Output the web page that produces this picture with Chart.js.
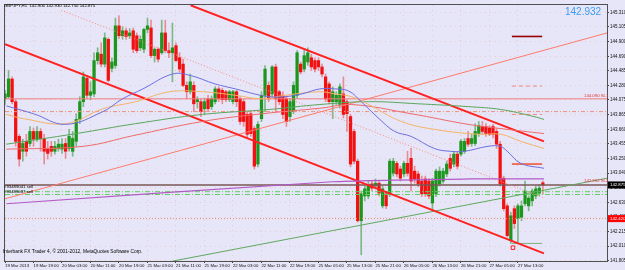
<!DOCTYPE html>
<html>
<head>
<meta charset="utf-8">
<script src="https://cdn.jsdelivr.net/npm/chart.js@4.4.1/dist/chart.umd.min.js"></script>
<style>
  body { margin: 0; background: #e6e6f8; }
  canvas { display: block; }
</style>
</head>
<body>
<canvas id="myChart" width="625" height="270"></canvas>
<script>
// GBPJPY H1 candles, bar 0 = 19 Mar 2013 11:00
const opens = [144.09,144.12,144.37,144.05,143.56,143.35,143.49,143.46,143.63,143.52,
143.63,143.53,143.38,143.42,143.35,143.39,143.38,143.46,143.39,143.35,
143.49,143.80,144.05,144.38,144.14,144.16,144.63,144.72,144.58,144.93,
144.52,144.56,145.12,144.98,145.05,144.98,145.05,144.98,144.81,144.79,
145.07,145.09,144.70,144.79,144.74,145.02,144.77,144.74,144.84,144.67,
144.58,144.28,144.19,144.28,144.05,144.05,143.95,144.09,143.98,144.05,
144.23,144.21,144.19,144.08,144.05,144.19,144.09,144.05,143.87,143.88,
143.67,143.17,143.81,144.14,144.28,144.16,144.54,144.19,144.14,144.09,
143.84,143.91,144.14,144.58,144.51,144.61,144.67,144.63,144.63,144.54,
144.40,144.30,144.05,144.05,144.01,144.16,144.05,143.84,143.63,143.21,
142.37,142.72,142.72,142.89,142.86,142.90,142.58,142.75,142.75,143.04,
143.18,143.10,143.03,143.18,143.25,143.07,143.03,142.93,142.96,142.93,
142.62,142.75,142.89,142.93,143.03,143.25,143.17,143.31,143.31,143.35,
143.53,143.46,143.46,143.60,143.70,143.70,143.68,143.70,143.63,143.45,
142.97,142.58,142.09,142.54,142.40,142.42,142.61,142.58,142.65,142.72,
142.76,142.906];
const highs = [144.21,144.49,144.40,144.08,143.59,143.52,143.59,143.70,143.68,143.70,
143.67,143.59,143.49,143.49,143.49,143.52,143.53,143.53,143.66,143.63,
143.88,144.12,144.47,144.42,144.33,144.74,144.81,144.88,145.02,144.95,
144.67,145.23,145.26,145.11,145.09,145.08,145.09,145.02,144.98,145.09,
145.23,145.20,144.81,144.81,145.20,145.20,144.88,145.16,144.88,144.74,
144.65,144.33,144.44,144.33,144.12,144.09,144.10,144.14,144.13,144.26,
144.26,144.24,144.21,144.21,144.21,144.21,144.12,144.08,143.91,143.91,
143.70,143.77,144.19,144.56,144.33,144.56,144.58,144.21,144.19,144.12,
144.09,144.33,144.77,144.61,144.77,144.81,144.72,144.67,144.67,144.58,
144.44,144.33,144.26,144.19,144.30,144.40,144.08,143.87,143.66,143.24,
142.79,142.86,142.93,142.93,142.96,142.93,142.86,142.79,143.24,143.25,
143.21,143.14,143.21,143.35,143.39,143.14,143.07,143.00,143.00,142.97,
142.97,143.10,143.13,143.11,143.21,143.31,143.35,143.35,143.52,143.53,
143.63,143.59,143.74,143.77,143.77,143.74,143.71,143.73,143.67,143.49,
143.00,142.61,142.49,142.58,142.61,142.65,142.93,142.72,142.82,142.86,
142.88,142.930];
const lows = [144.01,144.09,144.02,143.42,143.14,143.21,143.28,143.42,143.42,143.49,
143.35,143.17,143.24,143.28,143.31,143.35,143.32,143.25,143.35,143.28,
143.42,143.74,143.98,144.09,144.08,144.12,144.58,144.54,144.54,144.33,
144.47,144.52,144.94,144.93,144.93,144.94,144.74,144.74,144.77,144.74,
145.02,144.67,144.61,144.61,144.72,144.74,144.67,144.33,144.61,144.47,
144.26,144.09,144.16,143.91,143.96,143.84,143.88,143.91,143.94,144.02,
144.05,144.02,144.05,144.05,144.02,143.98,143.73,143.70,143.53,143.56,
143.10,143.13,143.77,143.91,144.05,144.12,143.91,144.01,143.81,143.70,
143.77,143.88,144.10,144.44,144.47,144.56,144.49,144.47,144.49,144.40,
144.05,144.02,143.81,144.01,143.96,143.82,143.63,143.13,143.17,142.35,
141.89,142.65,142.68,142.79,142.82,142.72,142.55,142.54,142.71,143.00,
142.99,142.93,142.99,143.00,142.79,142.90,142.85,142.71,142.71,142.68,
142.51,142.71,142.86,142.90,142.99,143.07,143.13,143.10,143.28,143.32,
143.42,143.42,143.43,143.56,143.59,143.56,143.57,143.54,143.39,142.86,
142.51,142.14,142.05,142.26,142.05,142.37,142.58,142.51,142.58,142.68,
142.72,142.750];
const closes = [144.16,144.37,144.05,143.49,143.24,143.46,143.35,143.63,143.52,143.63,
143.53,143.35,143.32,143.35,143.42,143.45,143.45,143.35,143.56,143.53,
143.80,144.05,144.40,144.14,144.19,144.63,144.74,144.58,144.95,144.35,
144.61,145.12,144.98,145.05,144.97,145.02,144.79,144.77,144.93,145.07,
145.12,144.70,144.79,144.65,145.02,144.77,144.74,144.81,144.63,144.51,
144.28,144.19,144.33,144.02,144.08,143.91,144.05,143.95,144.09,144.23,
144.09,144.08,144.08,144.19,144.19,144.05,143.77,143.77,143.59,143.60,
143.14,143.73,144.14,144.51,144.09,144.54,144.09,144.05,143.87,143.77,
144.05,144.28,144.74,144.47,144.70,144.74,144.54,144.51,144.54,144.44,
144.09,144.05,144.19,144.14,144.26,143.87,143.88,143.17,143.21,142.37,
142.75,142.82,142.86,142.83,142.90,142.76,142.82,142.58,143.21,143.21,
143.03,142.97,143.18,143.04,142.93,142.96,142.89,142.75,142.75,142.72,
142.93,143.07,143.07,143.07,143.17,143.11,143.31,143.14,143.49,143.49,
143.45,143.53,143.63,143.71,143.63,143.60,143.59,143.59,143.45,142.89,
142.54,142.16,142.44,142.33,142.58,142.58,142.79,142.69,142.79,142.82,
142.83,142.875];

// time axis labels (every 8 bars)
const tickBars = [0,8,16,24,32,40,48,56,64,72,80,88,96,104,112,120,128,136,144];
const tickTimes = ['19 Mar 2013','19 Mar 19:00','20 Mar 03:00','20 Mar 11:00','20 Mar 19:00',
  '21 Mar 03:00','21 Mar 11:00','21 Mar 19:00','22 Mar 03:00','22 Mar 11:00','22 Mar 19:00',
  '25 Mar 05:00','25 Mar 13:00','25 Mar 21:00','26 Mar 05:00','26 Mar 13:00','26 Mar 21:00',
  '27 Mar 05:00','27 Mar 13:00'];
const priceTicks = [145.310,145.105,144.900,144.690,144.485,144.280,144.075,143.865,143.660,
  143.455,143.250,143.040,142.835,142.630,142.420,142.215,142.010,141.805];

// moving averages (read at a few bars)
const blueMaBars = [0.4,8,17,27.5,33,38.7,47,52,59,64.7,70,74,78.6,83.4,88.4,92.6,96.5,100,105,109.4,114,120.5,125,129,135.6,139,141,144.8,151.3];
const blueMa = [143.99,143.88,143.73,143.91,144.09,144.23,144.44,144.42,144.30,144.23,144.16,144.12,144.12,144.16,144.23,144.23,144.20,144.05,143.81,143.63,143.56,143.39,143.35,143.35,143.42,143.42,143.35,143.18,143.11];
const orangeMaBars = [0.4,5.2,17.2,27.5,36.7,46.2,55.4,64.7,72.2,78.6,88.4,92.6,97.3,102.1,111.3,120.5,132.8,139.2,144.8,151.3];
const orangeMa = [143.87,143.81,143.74,143.95,144.05,144.19,144.19,144.14,144.09,144.14,144.19,144.16,144.12,144.01,143.77,143.66,143.59,143.59,143.49,143.39];
const greenMaBars = [0.4,20,36.7,55.4,74.2,88.4,102.1,116,130,139.2,148.5,151.3];
const greenMa = [143.45,143.60,143.74,143.87,143.94,144.01,144.05,144.02,143.98,143.94,143.84,143.80];
const redMaBars = [0.4,21.9,35.9,55.4,72.2,88.9,97.3,114,130,139.2,151.3];
const redMa = [143.38,143.42,143.57,143.77,143.88,143.96,144.01,143.88,143.73,143.67,143.60];
const purpleBars = [0.4,91.8,130.9,151.3];
const purple = [142.61,142.92,142.96,142.96];

// trend lines [startBar, endBar] / [startPrice, endPrice]
const lowerChannelBars = [0, 151.3], lowerChannel = [144.86, 141.91];
const upperChannelBars = [52.1, 151.3], upperChannel = [145.41, 143.49];
const midChannelBars = [15.8, 151.3], midChannel = [145.34, 142.69];
const redRiseBars = [0, 169], redRise = [142.68, 145.02];
const greenRiseBars = [47, 169], greenRise = [141.80, 142.97];

// horizontal levels
const slLevel = 144.09, dashLevel = 143.91, bidLevel = 142.875;
const greenLevels = [142.78, 142.74];
const dottedLevel = 142.40;
const shortBars = [142.3, 150.8];
const shortLevels = [144.97, 144.27, 143.87, 143.17, 142.05];
const arrowBar = [142.6], arrowPrice = [141.99];

const xMin = 0, xMax = 169, yMin = 141.802, yMax = 145.414;
const FONT = 'Liberation Sans, Arial, sans-serif';

const pts = (bars, vals) => bars.map((b, i) => ({ x: b, y: vals[i] }));
function line(data, color, width, dash, tension) {
  return { type: 'line', data, borderColor: color, borderWidth: width, borderDash: dash || [],
    pointRadius: 0, tension: tension || 0, fill: false, order: 0 };
}

const up = closes.map((c, i) => c >= opens[i]);
const datasets = [
  { type: 'bar', data: highs.map((h, i) => ({ x: i, y: [lows[i], h] })),
    backgroundColor: up.map(u => u ? 'rgba(20,140,20,0.5)' : 'rgba(240,30,30,0.45)'),
    barThickness: 1, grouped: false, order: 3 },
  { type: 'bar', data: opens.map((o, i) => ({ x: i, y: [o, closes[i]] })),
    backgroundColor: up.map(u => u ? '#1c961c' : '#f21010'),
    barThickness: 2.6, minBarLength: 1, grouped: false, order: 2 },
  line(pts(blueMaBars, blueMa), '#6f6fe0', 1, [], 0.4),
  line(pts(orangeMaBars, orangeMa), '#f5b468', 1, [], 0.4),
  line(pts(greenMaBars, greenMa), '#5aa65a', 1, [], 0.4),
  line(pts(redMaBars, redMa), '#f06a6a', 1, [], 0.4),
  line(pts(purpleBars, purple), '#b45ac8', 1.2, [], 0.2),
  line(pts(lowerChannelBars, lowerChannel), '#ff2020', 2),
  line(pts(upperChannelBars, upperChannel), '#ff2020', 2),
  line(pts(midChannelBars, midChannel), '#ff8a80', 1, [1, 2]),
  line(pts(redRiseBars, redRise), '#ff7b6b', 1),
  line(pts(greenRiseBars, greenRise), '#5fa85f', 1),
  line(pts([xMin, xMax], [slLevel, slLevel]), '#f07e7e', 1),
  line(pts([xMin, xMax], [dashLevel, dashLevel]), '#f0907a', 1, [4, 2, 1, 2]),
  line(pts([xMin, xMax], [bidLevel, bidLevel]), '#7a5656', 1.6),
  line(pts([xMin, xMax], [greenLevels[0], greenLevels[0]]), '#5ed25e', 1, [5, 2, 1, 2]),
  line(pts([xMin, xMax], [greenLevels[1], greenLevels[1]]), '#5ed25e', 1, [5, 2, 1, 2]),
  line(pts([xMin, xMax], [dottedLevel, dottedLevel]), '#f08a6a', 1, [1, 2]),
  line(pts(shortBars, [shortLevels[0], shortLevels[0]]), '#990000', 1.6),
  line(pts(shortBars, [shortLevels[1], shortLevels[1]]), '#f08a7a', 1, [4, 3]),
  line(pts(shortBars, [shortLevels[2], shortLevels[2]]), '#f08a7a', 1, [4, 3]),
  line(pts(shortBars, [shortLevels[3], shortLevels[3]]), '#f05a3a', 1.6),
  line(pts(shortBars, [shortLevels[4], shortLevels[4]]), '#7fae7f', 1),
  { type: 'line', data: pts(arrowBar, arrowPrice), showLine: false, pointStyle: 'rect',
    pointRadius: 2.5, pointBorderColor: '#ff2020', pointBackgroundColor: 'rgba(0,0,0,0)',
    pointBorderWidth: 1, order: 0 }
];

const mt4Plugin = {
  id: 'mt4',
  beforeDraw(chart) {
    const c = chart.ctx;
    c.save();
    c.fillStyle = '#e6e6f8';
    c.fillRect(0, 0, chart.width, chart.height);
    c.restore();
  },
  afterDraw(chart) {
    const c = chart.ctx, a = chart.chartArea, y = chart.scales.y;
    c.save();
    c.strokeStyle = '#505050';
    c.lineWidth = 1;
    c.strokeRect(a.left - 0.5, a.top - 0.5, a.right - a.left + 1, a.bottom - a.top + 1);
    c.textBaseline = 'middle';
    c.fillStyle = '#000';
    c.font = '4.3px ' + FONT;
    c.fillText('GBPJPY,H1  142.906 142.930 142.750 142.875', 4, 6);
    c.font = '4.8px ' + FONT;
    c.fillText('Interbank FX Trader 4, \u00a9 2001-2012, MetaQuotes Software Corp.', 3, 252);
    c.font = '4.3px ' + FONT;
    c.fillText('#93489041 sell', 4, 187);
    c.fillText('#93489087 sell', 4, 191.5);
    c.fillStyle = '#3a9cf2';
    c.font = '10px ' + FONT;
    c.fillText('142.932', 565, 12);
    c.fillStyle = '#e83030';
    c.font = '4.3px ' + FONT;
    c.fillText('144.090 SL1', 584, y.getPixelForValue(slLevel) - 3);
    c.fillText('142.932 SL2', 584, y.getPixelForValue(bidLevel) - 4);
    // price boxes on the axis
    const boxes = [[bidLevel, '#000', '142.875'], [dottedLevel, '#ff0000', '142.420']];
    boxes.forEach(([v, col, txt]) => {
      const py = y.getPixelForValue(v);
      c.fillStyle = col;
      c.fillRect(a.right + 1, py - 3.5, 17, 7);
      c.fillStyle = '#fff';
      c.fillText(txt, a.right + 3, py);
    });
    c.restore();
  }
};

new Chart(document.getElementById('myChart'), {
  type: 'bar',
  data: { datasets },
  options: {
    responsive: false,
    animation: false,
    devicePixelRatio: 1,
    layout: { padding: { left: 2, top: 2, right: 0, bottom: 0 } },
    plugins: { legend: { display: false }, tooltip: { enabled: false } },
    scales: {
      x: {
        type: 'linear', min: xMin, max: xMax, offset: false,
        afterBuildTicks: s => { s.ticks = tickBars.map(v => ({ value: v })); },
        afterFit: s => { s.height = 9; },
        ticks: { autoSkip: false, maxRotation: 0, minRotation: 0, align: 'start', padding: 0,
          color: '#111', font: { size: 4.3, family: FONT },
          callback: (v, i) => tickTimes[i] },
        grid: { color: 'rgba(235,150,110,0.32)', tickColor: '#444', tickLength: 2, offset: false },
        border: { display: false, dash: [1, 4] }
      },
      y: {
        position: 'right', min: yMin, max: yMax,
        afterBuildTicks: s => { s.ticks = priceTicks.map(v => ({ value: v })); },
        afterFit: s => { s.width = 18; },
        ticks: { autoSkip: false, padding: 1, color: '#111', font: { size: 4.5, family: FONT },
          callback: v => v.toFixed(3) },
        grid: { color: 'rgba(235,150,110,0.32)', tickColor: '#444', tickLength: 2 },
        border: { display: false, dash: [1, 4] }
      }
    }
  },
  plugins: [mt4Plugin]
});
</script>
</body>
</html>
